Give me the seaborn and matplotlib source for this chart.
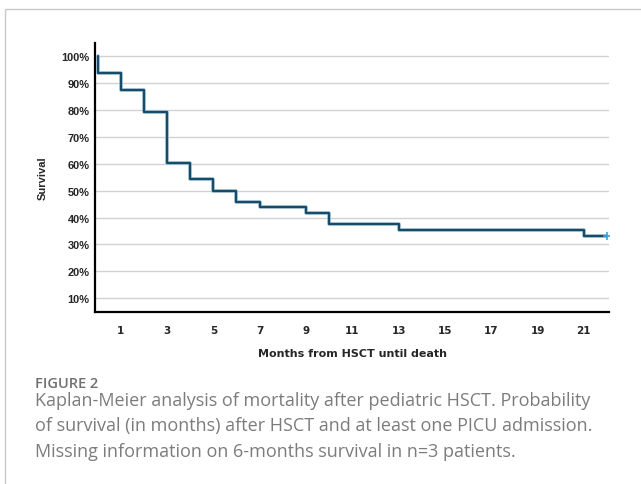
import matplotlib
matplotlib.use("Agg")
import matplotlib.pyplot as plt
import seaborn as sns
import pandas as pd
from matplotlib.patches import Rectangle

# Data
months = [0, 0, 1, 2, 3, 4, 5, 6, 7, 9, 10, 13, 21, 22]
survival = [100.0, 93.8, 87.5, 79.2, 60.4, 54.2, 50.0, 45.8, 43.8, 41.7, 37.5, 35.4, 33.3, 33.3]
censor_month = [22]
censor_surv = [33.3]
x_ticks = [1, 3, 5, 7, 9, 11, 13, 15, 17, 19, 21]
y_ticks = [10, 20, 30, 40, 50, 60, 70, 80, 90, 100]
y_labels = [f"{v}%" for v in y_ticks]

caption_head = "FIGURE 2"
caption_lines = [
    "Kaplan-Meier analysis of mortality after pediatric HSCT. Probability",
    "of survival (in months) after HSCT and at least one PICU admission.",
    "Missing information on 6-months survival in n=3 patients.",
]

sns.set_style("white")
plt.rcParams["font.family"] = ["Liberation Sans", "DejaVu Sans"]

W, H = 641, 485
fig = plt.figure(figsize=(W / 100, H / 100), dpi=100)
ax = fig.add_axes([95 / W, 1 - 312.5 / H, (609.3 - 95) / W, (312.5 - 44) / H])

df = pd.DataFrame({"month": months, "surv": survival})
line_color = "#164b69"
sns.lineplot(data=df, x="month", y="surv", ax=ax, estimator=None, sort=False,
             drawstyle="steps-post", color="#9fc3d6", linewidth=2.6, zorder=3)
sns.lineplot(data=df, x="month", y="surv", ax=ax, estimator=None, sort=False,
             drawstyle="steps-post", color=line_color, linewidth=1.6, zorder=4)
cdf = pd.DataFrame({"month": censor_month, "surv": censor_surv})
sns.scatterplot(data=cdf, x="month", y="surv", ax=ax, marker="+", s=30,
                color="#3fa2e0", linewidth=1.2, zorder=5)

ax.set_xlim(-0.11, 22.1)
ax.set_ylim(5, 105)
ax.set_yticks(y_ticks)
ax.set_yticklabels(y_labels)
ax.set_xticks(x_ticks)
ax.yaxis.grid(True, color="#d2d2d2", linewidth=1.0)
ax.xaxis.grid(False)
ax.set_axisbelow(True)

for s in ["top", "right"]:
    ax.spines[s].set_visible(False)
for s in ["left", "bottom"]:
    ax.spines[s].set_color("black")
    ax.spines[s].set_linewidth(1.6)

ax.tick_params(axis="y", length=0, pad=4, labelsize=7.9)
ax.tick_params(axis="x", length=5, width=1.3, color="black", direction="out",
               pad=5, labelsize=7.5)
for lab in ax.get_yticklabels():
    lab.set_fontweight("bold")
for lab in ax.get_xticklabels():
    lab.set_fontweight("bold")
    lab.set_fontfamily("DejaVu Sans")

ax.set_xlabel("Months from HSCT until death", fontsize=8, fontweight="bold",
              family="DejaVu Sans", labelpad=9)
ax.set_ylabel("Survival", fontsize=8, fontweight="bold", labelpad=10)

# outer frame
fig.patches.append(Rectangle((5 / W, -0.1), 1.2, (1 - 10 / H) + 0.1,
                             transform=fig.transFigure, fill=False,
                             edgecolor="#c8c8c8", linewidth=1.0, zorder=0))

fig.text(35 / W, 1 - 388.5 / H, caption_head, family="Open Sans",
         fontsize=10.5, fontweight="semibold", color="#707070", va="baseline")
baselines = [405.7, 431.3, 457.0]
for txt, b in zip(caption_lines, baselines):
    fig.text(35 / W, 1 - b / H, txt, family="Open Sans", fontsize=13.0,
             color="#7c7c7c", va="baseline")

fig.savefig("out.png", dpi=100)
